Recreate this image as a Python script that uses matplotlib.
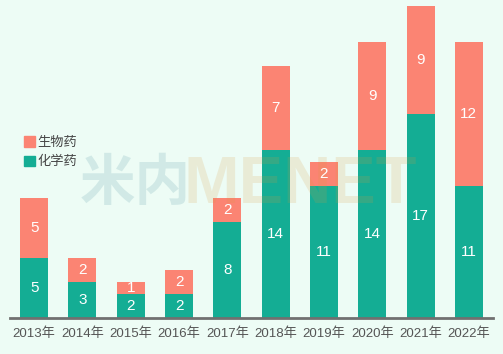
import matplotlib
matplotlib.use('Agg')
import matplotlib.pyplot as plt
import numpy as np
from matplotlib.patches import Patch

plt.rcParams['font.family'] = ['Liberation Sans', 'Noto Sans CJK SC']

years = ['2013年', '2014年', '2015年', '2016年', '2017年',
         '2018年', '2019年', '2020年', '2021年', '2022年']
chem = [5, 3, 2, 2, 8, 14, 11, 14, 17, 11]
bio = [5, 2, 1, 2, 2, 7, 2, 9, 9, 12]

GREEN = '#14ad94'
SALMON = '#fb8473'
BG = '#edfcf5'

fig = plt.figure(figsize=(5.03, 3.54), dpi=100, facecolor=BG)
ax = fig.add_axes([10 / 503, 36 / 354, 483 / 503, 312 / 354])
ax.set_facecolor(BG)

x = np.arange(len(years))
w = 0.58
ax.bar(x, chem, width=w, color=GREEN, zorder=2)
ax.bar(x, bio, width=w, bottom=chem, color=SALMON, zorder=2)

# faint watermark, drawn over the bars like the original
ax.text(80 / 503, 1 - 200 / 354, '米内', transform=fig.transFigure,
        fontsize=40, fontweight='bold', family='Noto Sans CJK SC',
        color='#3f8a9a', alpha=0.16, va='baseline', ha='left', zorder=2.5)
ax.text(184 / 503, 1 - 203 / 354, 'MENET', transform=fig.transFigure,
        fontsize=48, fontweight='bold', family='Liberation Sans',
        color='#d89a40', alpha=0.17, va='baseline', ha='left', zorder=2.5)

for i in range(len(years)):
    ax.text(x[i], chem[i] / 2, str(chem[i]), ha='center', va='center',
            color='white', fontsize=11, zorder=3)
    ax.text(x[i], chem[i] + bio[i] / 2, str(bio[i]), ha='center', va='center',
            color='white', fontsize=11, zorder=3)

ax.set_xlim(-0.5, 9.5)
ax.set_ylim(0, 26)
ax.set_yticks([])
ax.set_xticks(x)
ax.set_xticklabels(years, fontsize=9.5, color='#555555')
ax.tick_params(axis='x', length=0, pad=7)
for s in ['top', 'right', 'left']:
    ax.spines[s].set_visible(False)
ax.spines['bottom'].set_color('#707070')
ax.spines['bottom'].set_linewidth(2)

handles = [Patch(color=SALMON, label='生物药'), Patch(color=GREEN, label='化学药')]
ax.legend(handles=handles, loc='upper left', bbox_to_anchor=(0.005, 0.62),
          frameon=False, fontsize=9.5, handlelength=0.8, handleheight=0.8,
          handletextpad=0.2, labelspacing=0.5, labelcolor='#444444')

fig.savefig('out.png', dpi=100, facecolor=BG)
